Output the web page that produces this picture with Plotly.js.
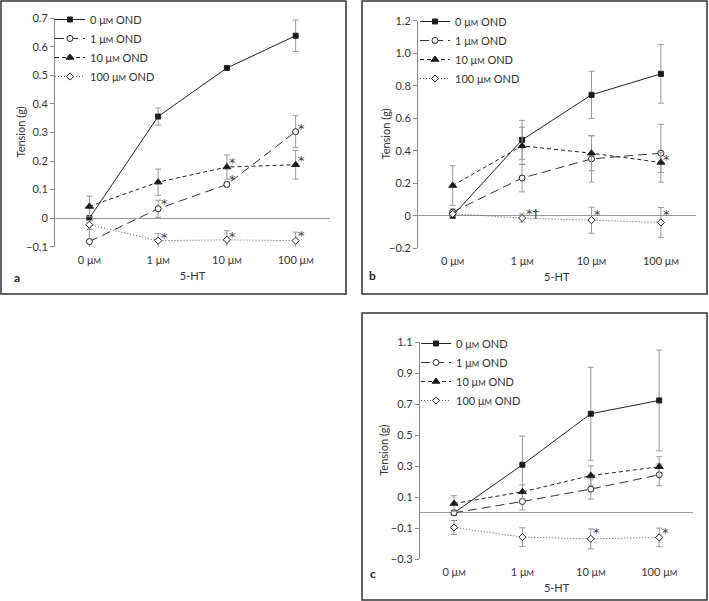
<!DOCTYPE html>
<html><head><meta charset="utf-8">
<script src="https://cdn.plot.ly/plotly-3.0.1.min.js"></script>
<style>html,body{margin:0;padding:0;background:#fff}</style>
</head><body><div id="chart" style="width:709px;height:601px"></div>
<script>
// ---- data ----
const categories = ['0 μM', '1 μM', '10 μM', '100 μM'];
const seriesNames = ['0 μM OND', '1 μM OND', '10 μM OND', '100 μM OND'];
const xAxisTitle = '5-HT';
const yAxisTitle = 'Tension (g)';
const panelLetters = ['a', 'b', 'c'];

// panel a
const aOND0 = [0, 0.356, 0.526, 0.639];
const aOND0Err = [0, 0.03, 0, 0.055];
const aOND1 = [-0.082, 0.033, 0.118, 0.303];
const aOND1Err = [0.042, 0.03, 0.008, 0.056];
const aOND10 = [0.041, 0.126, 0.179, 0.187];
const aOND10Err = [0.036, 0.046, 0.042, 0.05];
const aOND100 = [-0.023, -0.079, -0.076, -0.079];
const aOND100Err = [0.015, 0.025, 0.032, 0.03];
const aStarX = ['1 μM', '1 μM', '10 μM', '10 μM', '10 μM', '100 μM', '100 μM', '100 μM'];
const aStarY = [0.064, -0.055, 0.208, 0.148, -0.05, 0.328, 0.216, -0.047];
const aStarText = ['*', '*', '*', '*', '*', '*', '*', '*'];
const aTickVals = [-0.1, 0, 0.1, 0.2, 0.3, 0.4, 0.5, 0.6, 0.7];
const aTickText = ['−0.1', '0', '0.1', '0.2', '0.3', '0.4', '0.5', '0.6', '0.7'];

// panel b
const bOND0 = [0, 0.467, 0.744, 0.873];
const bOND0Err = [0.01, 0.12, 0.145, 0.18];
const bOND1 = [0.023, 0.232, 0.35, 0.385];
const bOND1Err = [0.02, 0.085, 0.142, 0.178];
const bOND10 = [0.186, 0.43, 0.385, 0.328];
const bOND10Err = [0.122, 0.115, 0.108, 0.062];
const bOND100 = [0.012, -0.014, -0.027, -0.041];
const bOND100Err = [0.015, 0.025, 0.08, 0.092];
const bStarX = ['1 μM', '10 μM', '100 μM', '100 μM'];
const bStarY = [0.041, 0.033, 0.033, 0.369];
const bStarText = ['*†', '*', '*', '*'];
const bTickVals = [-0.2, 0, 0.2, 0.4, 0.6, 0.8, 1.0, 1.2];
const bTickText = ['−0.2', '0', '0.2', '0.4', '0.6', '0.8', '1.0', '1.2'];

// panel c
const cOND0 = [0, 0.31, 0.639, 0.725];
const cOND0Err = [0.01, 0.185, 0.3, 0.325];
const cOND1 = [0, 0.073, 0.153, 0.245];
const cOND1Err = [0.01, 0.055, 0.065, 0.07];
const cOND10 = [0.06, 0.135, 0.24, 0.297];
const cOND10Err = [0.05, 0.045, 0.062, 0.065];
const cOND100 = [-0.095, -0.157, -0.168, -0.159];
const cOND100Err = [0.045, 0.06, 0.065, 0.06];
const cStarX = ['10 μM', '100 μM'];
const cStarY = [-0.103, -0.1];
const cStarText = ['*', '*'];
const cTickVals = [-0.3, -0.1, 0.1, 0.3, 0.5, 0.7, 0.9, 1.1];
const cTickText = ['−0.3', '−0.1', '0.1', '0.3', '0.5', '0.7', '0.9', '1.1'];

// ---- layout helpers (pixels -> paper) ----
const W = 709, H = 601;
const px = x => x / W;
const py = y => 1 - y / H;
const FONT = 'Lato, "Noto Sans", sans-serif';
const STARFONT = '"DejaVu Sans", sans-serif';
const TXT = '#333';
const unitHtml = s => s.replace('μM', 'μ<span style="font-size:8px">M</span>');

const styles = [
  {symbol: 'square', size: 5, fill: '#1a1a1a', dash: 'solid', lc: '#222'},
  {symbol: 'circle', size: 6, fill: '#fff', dash: '9px,5px', lc: '#333'},
  {symbol: 'triangle-up', size: 7, fill: '#1a1a1a', dash: '4px,3px', lc: '#222'},
  {symbol: 'diamond', size: 5.5, fill: '#fff', dash: '1px,2px', lc: '#555'}
];

const panels = [
  {series: [[aOND0, aOND0Err], [aOND1, aOND1Err], [aOND10, aOND10Err], [aOND100, aOND100Err]],
   stars: [aStarX, aStarY, aStarText], ticks: [aTickVals, aTickText], yr: [-0.1, 0.7],
   xd: [55, 330], yd: [18.3, 246.7], box: [1, 1, 346, 294], legend: [50, 5], letter: [17, 277], ytitle: 20},
  {series: [[bOND0, bOND0Err], [bOND1, bOND1Err], [bOND10, bOND10Err], [bOND100, bOND100Err]],
   stars: [bStarX, bStarY, bStarText], ticks: [bTickVals, bTickText], yr: [-0.2, 1.2],
   xd: [418, 695.6], yd: [20.7, 248.3], box: [362, 1, 707, 294], legend: [415, 7], letter: [373, 275], ytitle: 385},
  {series: [[cOND0, cOND0Err], [cOND1, cOND1Err], [cOND10, cOND10Err], [cOND100, cOND100Err]],
   stars: [cStarX, cStarY, cStarText], ticks: [cTickVals, cTickText], yr: [-0.3, 1.1],
   xd: [419.8, 693.4], yd: [342.3, 559.3], box: [362, 313, 707, 600], legend: [416, 329], letter: [373, 573], ytitle: 384}
];

const traces = [];
const layout = {
  width: W, height: H, margin: {l: 0, r: 0, t: 0, b: 0},
  paper_bgcolor: '#fff', plot_bgcolor: 'rgba(0,0,0,0)',
  font: {family: FONT, size: 11, color: TXT},
  showlegend: true, shapes: [], annotations: []
};

panels.forEach((p, i) => {
  const sfx = i === 0 ? '' : String(i + 1);
  const xa = 'x' + sfx, ya = 'y' + sfx;
  const legName = 'legend' + sfx;
  p.series.forEach(([vals, errs], k) => {
    const st = styles[k];
    traces.push({
      type: 'scatter', mode: 'lines+markers', x: categories, y: vals,
      name: unitHtml(seriesNames[k]), legend: legName, xaxis: xa, yaxis: ya,
      cliponaxis: false,
      line: {color: st.lc, width: 1, dash: st.dash},
      marker: {symbol: st.symbol, size: st.size, color: st.fill, line: {color: '#222', width: 1}},
      error_y: {type: 'data', array: errs, visible: true, color: '#999', thickness: 1, width: 3},
      hoverinfo: 'skip'
    });
  });
  const [sx, sy, st] = p.stars;
  sx.forEach((x, j) => {
    layout.annotations.push({
      xref: xa, yref: ya, x: x, y: sy[j], text: st[j], showarrow: false,
      xanchor: 'center', yanchor: 'middle', xshift: st[j].length > 1 ? 11 : 6, yshift: -4,
      font: {size: 13, color: '#444', family: STARFONT}
    });
  });
  layout['xaxis' + sfx] = {
    domain: [px(p.xd[0]), px(p.xd[1])], anchor: ya, type: 'category', range: [-0.5, 3.5],
    tickvals: categories, ticktext: categories.map(unitHtml),
    showline: false, showgrid: false, zeroline: false, ticks: '', ticklabelstandoff: 5,
    tickfont: {size: 11, color: TXT}, automargin: false,
    title: {text: xAxisTitle, font: {size: 11, color: TXT}, standoff: 7},
    fixedrange: true
  };
  layout['yaxis' + sfx] = {
    domain: [py(p.yd[1]), py(p.yd[0])], anchor: xa, range: p.yr,
    tickvals: p.ticks[0], ticktext: p.ticks[1],
    showline: true, linecolor: '#888', linewidth: 1,
    ticks: 'outside', ticklen: 4, tickcolor: '#888', tickwidth: 1,
    showgrid: false, zeroline: true, zerolinecolor: '#999', zerolinewidth: 1,
    tickfont: {size: 11, color: TXT}, automargin: false,
    fixedrange: true
  };
  // y-axis title (placed as rotated text beside the axis)
  layout.annotations.push({
    xref: 'paper', yref: 'paper', x: px(p.ytitle), y: py((p.yd[0] + p.yd[1]) / 2),
    text: yAxisTitle, textangle: -90, showarrow: false,
    xanchor: 'center', yanchor: 'middle', font: {size: 11, color: TXT, family: FONT}
  });
  layout[legName] = {
    x: px(p.legend[0]), y: py(p.legend[1]), xanchor: 'left', yanchor: 'top',
    bgcolor: 'rgba(0,0,0,0)', borderwidth: 0, font: {size: 11, color: TXT, family: FONT},
    itemwidth: 30, tracegroupgap: 0
  };
  layout.shapes.push({
    type: 'rect', xref: 'paper', yref: 'paper',
    x0: px(p.box[0]), x1: px(p.box[2]), y0: py(p.box[3]), y1: py(p.box[1]),
    line: {color: '#333', width: 1.5}, fillcolor: 'rgba(0,0,0,0)', layer: 'above'
  });
  layout.annotations.push({
    xref: 'paper', yref: 'paper', x: px(p.letter[0]), y: py(p.letter[1]),
    text: '<b>' + panelLetters[i] + '</b>', showarrow: false,
    xanchor: 'center', yanchor: 'middle', font: {size: 12, color: '#222', family: FONT}
  });
});

Plotly.newPlot('chart', traces, layout, {displayModeBar: false, staticPlot: true});
</script>
</body></html>
